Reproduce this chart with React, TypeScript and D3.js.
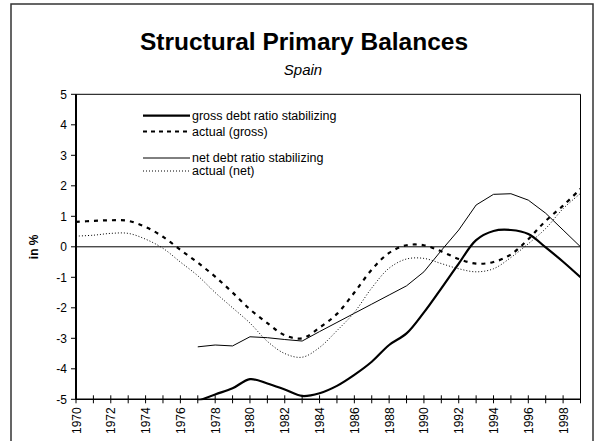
import React from "react";
import * as d3 from "d3";

const years = d3.range(1970, 2000);
const actualGross = [0.82, 0.85, 0.87, 0.85, 0.65, 0.33, -0.1, -0.52, -0.98, -1.5, -2.05, -2.5, -2.9, -3.0, -2.65, -2.2, -1.5, -0.75, -0.2, 0.05, 0.05, -0.15, -0.4, -0.55, -0.5, -0.25, 0.25, 0.85, 1.35, 1.9];
const actualNet = [0.35, 0.38, 0.44, 0.44, 0.25, -0.05, -0.5, -0.95, -1.5, -2.0, -2.5, -3.1, -3.5, -3.62, -3.3, -2.75, -2.15, -1.35, -0.7, -0.4, -0.38, -0.55, -0.72, -0.82, -0.72, -0.35, 0.1, 0.6, 1.25, 1.75];
const stabYears = d3.range(1977, 2000);
const grossStab = [-5.06, -4.84, -4.64, -4.34, -4.48, -4.68, -4.89, -4.8, -4.56, -4.2, -3.77, -3.22, -2.84, -2.15, -1.36, -0.55, 0.22, 0.52, 0.55, 0.42, -0.02, -0.49, -1.0];
const netStab = [-3.28, -3.22, -3.25, -2.95, -2.98, -3.04, -3.09, -2.78, -2.48, -2.18, -1.88, -1.58, -1.28, -0.82, -0.12, 0.55, 1.37, 1.72, 1.74, 1.53, 1.1, 0.55, 0.0];
const yTicks = [-5, -4, -3, -2, -1, 0, 1, 2, 3, 4, 5];
const xLabels = d3.range(1970, 2000, 2);
const legendLabels = ["gross debt ratio stabilizing", "actual (gross)", "net debt ratio stabilizing", "actual (net)"];

const FONT = "Liberation Sans, Arial, sans-serif";

export default function App() {
  const W = 596, H = 441;
  const left = 76, right = 580.5, top = 94.3, bottom = 399.3;
  const x = d3.scaleLinear().domain([1970, 1999]).range([left, right]);
  const y = d3.scaleLinear().domain([-5, 5]).range([bottom, top]);

  const smooth = d3.line<[number, number]>().x(d => x(d[0])).y(d => y(d[1])).curve(d3.curveCatmullRom.alpha(0.5));
  const straight = d3.line<[number, number]>().x(d => x(d[0])).y(d => y(d[1]));

  const zip = (xs: number[], vs: number[]) => xs.map((yr, i) => [yr, vs[i]] as [number, number]);

  const legendRows = [
    { y: 115.7, stroke: 2.2, dash: "none" },
    { y: 131.5, stroke: 2.2, dash: "4,4" },
    { y: 158, stroke: 1, dash: "none" },
    { y: 171, stroke: 1, dash: "1,2" },
  ];

  return (
    <svg width={W} height={H} style={{ position: "absolute", left: 0, top: 0, display: "block" }} fontFamily={FONT}>
      <rect x={0} y={0} width={W} height={H} fill="#fff" />
      <rect x={11} y={4} width={582} height={460} fill="#fff" stroke="#333" strokeWidth={1.5} />
      <text x={304} y={50} textAnchor="middle" fontSize={24.5} fontWeight="bold">Structural Primary Balances</text>
      <text x={303} y={75} textAnchor="middle" fontSize={15} fontStyle="italic">Spain</text>

      <defs>
        <clipPath id="plotclip">
          <rect x={left} y={top} width={right - left} height={bottom - top + 1} />
        </clipPath>
      </defs>

      {/* plot frame top & right */}
      <line x1={left} x2={right} y1={top} y2={top} stroke="#000" strokeWidth={1} />
      <line x1={right} x2={right} y1={top} y2={bottom} stroke="#000" strokeWidth={1} />
      {/* zero line */}
      <line x1={left} x2={right} y1={y(0)} y2={y(0)} stroke="#000" strokeWidth={1} />

      {/* y axis */}
      <line x1={left} x2={left} y1={top} y2={bottom} stroke="#000" strokeWidth={2} />
      {yTicks.map(t => (
        <g key={t}>
          <line x1={left - 5} x2={left} y1={y(t)} y2={y(t)} stroke="#000" strokeWidth={1} />
          <text x={left - 9} y={y(t) + 4.5} textAnchor="end" fontSize={12}>{t}</text>
        </g>
      ))}
      <text transform={`translate(38,${y(0)}) rotate(-90)`} textAnchor="middle" fontSize={12} fontWeight="bold">in %</text>

      {/* x axis */}
      <line x1={left} x2={right} y1={bottom} y2={bottom} stroke="#000" strokeWidth={1.5} />
      {years.map(yr => (
        <line key={yr} x1={x(yr)} x2={x(yr)} y1={bottom - 4} y2={bottom + 4} stroke="#000" strokeWidth={1} />
      ))}
      {xLabels.map(yr => (
        <text key={yr} transform={`translate(${x(yr) + 4.5},${bottom + 8}) rotate(-90)`} textAnchor="end" fontSize={12}>{yr}</text>
      ))}

      <g clipPath="url(#plotclip)" fill="none">
        <path d={smooth(zip(years, actualNet)) || ""} stroke="#000" strokeWidth={1} strokeDasharray="1,2" />
        <path d={straight(zip(stabYears, netStab)) || ""} stroke="#000" strokeWidth={1} />
        <path d={smooth(zip(years, actualGross)) || ""} stroke="#000" strokeWidth={2.2} strokeDasharray="4,5" />
        <path d={smooth(zip(stabYears, grossStab)) || ""} stroke="#000" strokeWidth={2.2} />
      </g>

      {legendRows.map((r, i) => (
        <g key={i}>
          <line x1={143} x2={190} y1={r.y} y2={r.y} stroke="#000" strokeWidth={r.stroke} strokeDasharray={r.dash} />
          <text x={192} y={r.y + 4.3} fontSize={12.5}>{legendLabels[i]}</text>
        </g>
      ))}
    </svg>
  );
}
